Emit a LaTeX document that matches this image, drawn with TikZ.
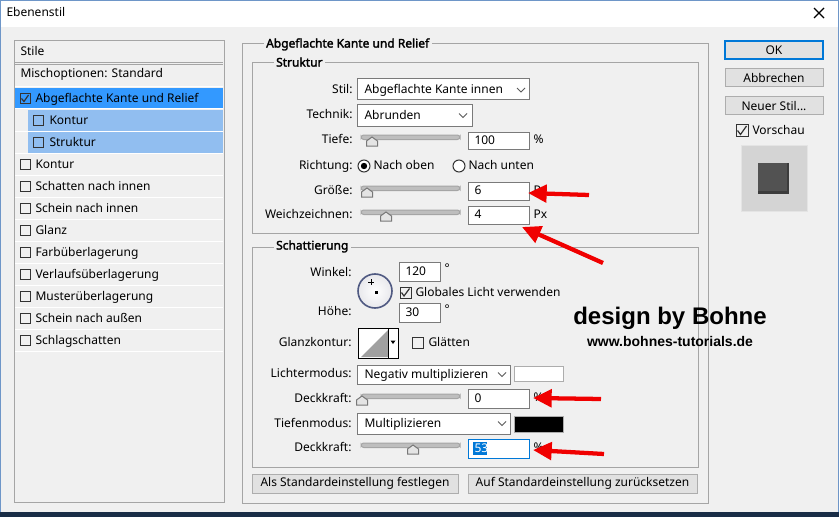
\documentclass[tikz,border=0pt]{standalone}
\usepackage{fontspec}
\setmainfont{Noto Sans}
\newfontfamily\headfont{Noto Sans}[FakeBold=2.2]
\newfontfamily\markfont{Liberation Sans}
\usetikzlibrary{arrows.meta}
\tikzset{every picture/.style={line width=0.75pt}}

\definecolor{dlgbg}{RGB}{240,240,240}
\definecolor{winedge}{RGB}{110,150,200}
\definecolor{desk}{RGB}{25,45,70}
\definecolor{framegray}{RGB}{165,165,165}
\definecolor{selblue}{RGB}{51,153,255}
\definecolor{subblue}{RGB}{145,190,240}
\definecolor{fieldgray}{RGB}{122,122,122}
\definecolor{btnfill}{RGB}{225,225,225}
\definecolor{btnedge}{RGB}{173,173,173}
\definecolor{focusblue}{RGB}{0,120,215}
\definecolor{arrowred}{RGB}{240,0,0}
\definecolor{trackgray}{RGB}{190,190,190}
\definecolor{trackedge}{RGB}{165,165,165}
\definecolor{knobedge}{RGB}{120,120,120}
\definecolor{knobfill}{RGB}{228,228,228}
\definecolor{boxdark}{RGB}{51,51,51}
\definecolor{chevgray}{RGB}{90,90,90}
\definecolor{dialedge}{RGB}{80,90,130}
\definecolor{dialfill}{RGB}{232,232,236}
\definecolor{contourgray}{RGB}{160,160,160}
\definecolor{previewedge}{RGB}{228,228,228}
\definecolor{previewfill}{RGB}{212,212,212}
\definecolor{tiledark}{RGB}{60,60,60}
\definecolor{tilefill}{RGB}{82,82,82}

\tikzset{
  ui/.style={inner sep=0pt, font=\fontsize{9}{11}\selectfont},
  lbl/.style={ui, anchor=mid east},
  txt/.style={ui, anchor=mid west},
  head/.style={ui, anchor=mid west, font=\headfont\fontsize{9}{11}\selectfont, fill=dlgbg, inner xsep=2pt},
  frame/.style={draw=framegray},
  field/.style={draw=fieldgray, fill=white},
  btn/.style={draw=btnedge, fill=btnfill},
  chkbox/.style={draw=boxdark},
  chkmark/.style={draw=boxdark, line width=0.9pt},
  chevron/.style={draw=chevgray, line width=0.7pt},
  redarrow/.style={draw=arrowred, line width=3.2pt, -{Triangle[length=14pt,width=13pt]}}
}

\begin{document}
\begin{tikzpicture}[x=0.75pt,y=0.75pt,yscale=-1,xscale=1]
\useasboundingbox (0,0) rectangle (839,517);

%Shape: Window
\fill[dlgbg] (0,0) rectangle (839,517);
\fill[white] (0,0) rectangle (839,27);
\fill[desk] (0,512) rectangle (839,517);
\draw[winedge] (0.5,512) -- (0.5,0.5) -- (838.5,0.5) -- (838.5,512);
% Text Node
\node[txt] (titel) at (6,13) {Ebenenstil};
%Straight Lines: close cross
\draw[line width=0.9pt] (814,8) -- (824,18) (824,8) -- (814,18);

%Shape: Stile list
\draw[frame] (14,41) rectangle (224,502);
\draw[frame] (15,63) -- (223,63) (15,65) -- (223,65);
\fill[selblue] (15,88) rectangle (223,109);
\fill[subblue] (28,110) rectangle (223,131);
\fill[subblue] (28,132) rectangle (223,153);
\foreach \k in {0,...,12}
  \draw[white] (15,{87+22*\k}) -- (223,{87+22*\k});
% Text Node
\node[txt] (stilkopf) at (20,52) {Stile};
\node[txt] (misch) at (20,74) {Mischoptionen: Standard};
\draw[chkbox] (20,93.5) rectangle (30,103.5);
\draw[chkmark] (21.5,98.5) -- (24,101.5) -- (28.5,95);
\node[txt] (kante) at (35,98.5) {Abgeflachte Kante und Relief};
\draw[chkbox] (33,115.5) rectangle (43,125.5);
\node[txt] (subkontur) at (49,120.5) {Kontur};
\draw[chkbox] (33,137.5) rectangle (43,147.5);
\node[txt] (substruktur) at (49,142.5) {Struktur};
\foreach \name [count=\k from 0] in {Kontur,Schatten nach innen,Schein nach innen,Glanz,Farbüberlagerung,Verlaufsüberlagerung,Musterüberlagerung,Schein nach außen,Schlagschatten}{
  \draw[chkbox] (20,{159.5+22*\k}) rectangle (30,{169.5+22*\k});
  \node[txt] (stil\k) at (35,{164.5+22*\k}) {\name};
}

%Shape: group frames
\draw[frame] (242,44) rectangle (708,503);
\node[head] (kopfkante) at (263,44) {Abgeflachte Kante und Relief};
\draw[frame] (252,63) rectangle (698,233);
\node[head] (kopfstruktur) at (273,63) {Struktur};
\draw[frame] (252,247) rectangle (698,467);
\node[head] (kopfschatt) at (273,246) {Schattierung};

%Struktur
\node[lbl] (stil) at (353,90) {Stil:};
\draw[field] (357,79) rectangle (529,100);
\node[txt] (stilwert) at (364,90) {Abgeflachte Kante innen};
\draw[chevron] (517,88) -- (521,92) -- (525,88);
\node[lbl] (technik) at (353,115) {Technik:};
\draw[field] (357,105) rectangle (472,126);
\node[txt] (technikwert) at (364,115.5) {Abrunden};
\draw[chevron] (459,113.5) -- (463,117.5) -- (467,113.5);
\node[lbl] (tiefe) at (353,140) {Tiefe:};
\draw[field] (468,132) rectangle (529,149);
\node[txt] (tiefewert) at (474,140.5) {100};
\node[txt] (tiefeeinh) at (533,140) {\%};
\node[lbl] (richtung) at (353,166) {Richtung:};
\draw[chkbox, fill=white] (364,166) circle [radius=6];
\fill[black] (364,166) circle [radius=3.2];
\node[txt] (oben) at (373,166) {Nach oben};
\draw[chkbox, fill=white] (459,166) circle [radius=6];
\node[txt] (unten) at (468,166) {Nach unten};
\node[lbl] (groesse) at (353,191) {Größe:};
\draw[field] (468,182) rectangle (529,200);
\node[txt] (groessewert) at (474,191) {6};
\node[txt] (groesseeinh) at (533,191) {Px};
\node[lbl] (weich) at (353,215) {Weichzeichnen:};
\draw[field] (468,206) rectangle (529,224);
\node[txt] (weichwert) at (474,215) {4};
\node[txt] (weicheinh) at (533,215) {Px};

%Schattierung
\node[lbl] (winkel) at (352,273) {Winkel:};
\draw[draw=dialedge, line width=1.2pt, inner color=white, outer color=dialfill] (375,291) circle [radius=17];
\draw[line width=0.5pt] (368,282) -- (374,282) (371,279) -- (371,285);
\fill[black] (375,291) rectangle (378,294);
\draw[field] (399,262) rectangle (440,281);
\node[txt] (winkelwert) at (405,271.5) {120};
\node[txt] (winkelgrad) at (444,269) {°};
\draw[chkbox] (400,287) rectangle (411,298);
\draw[chkmark] (401.5,292.5) -- (404,296) -- (409.5,288.5);
\node[txt] (global) at (415,292.5) {Globales Licht verwenden};
\node[lbl] (hoehe) at (352,312) {Höhe:};
\draw[field] (399,303) rectangle (440,322);
\node[txt] (hoehewert) at (405,312.5) {30};
\node[txt] (hoehegrad) at (444,310) {°};
\node[lbl] (glanz) at (352,343) {Glanzkontur:};
\draw[fill=white] (358,328) rectangle (398,358);
\fill[contourgray] (361,357) -- (388,330) -- (388,357) -- cycle;
\draw (388,328) -- (388,358);
\fill[black] (390.5,340.5) -- (395.5,340.5) -- (393,344) -- cycle;
\draw[chkbox] (412,337) rectangle (423,348);
\node[txt] (glaetten) at (428,343) {Glätten};
\node[lbl] (licht) at (352,374) {Lichtermodus:};
\draw[field] (357,365) rectangle (510,384);
\node[txt] (lichtwert) at (364,374.5) {Negativ multiplizieren};
\draw[chevron] (498,372.5) -- (502,376.5) -- (506,372.5);
\draw[draw=btnedge, fill=white] (514,366) rectangle (563,381);
\node[lbl] (deck1) at (352,399) {Deckkraft:};
\draw[field] (468,389) rectangle (529,408);
\node[txt] (deck1wert) at (474,398.5) {0};
\node[txt] (deck1einh) at (533,398) {\%};
\node[lbl] (tiefenmodus) at (352,424) {Tiefenmodus:};
\draw[field] (357,413) rectangle (510,434);
\node[txt] (tiefenwert) at (364,423.5) {Multiplizieren};
\draw[chevron] (498,421.5) -- (502,425.5) -- (506,421.5);
\draw[draw=btnedge, fill=black] (514,416) rectangle (563,432);
\node[lbl] (deck2) at (352,448) {Deckkraft:};
\draw[draw=focusblue, fill=white] (468,439) rectangle (529,458);
\fill[focusblue] (473,442) rectangle (487,455);
\node[txt, text=white] (deck2wert) at (474,448.5) {53};
\node[txt] (deck2einh) at (533,448) {\%};

%Sliders
\foreach \y/\t in {140/372,191/367,215/386,399/362,448/413}{
  \draw[draw=trackedge, fill=trackgray, rounded corners=2] (361,\y-5) rectangle (460,\y-0.5);
  \draw[draw=knobedge, fill=knobfill] (\t,\y-3) -- (\t+5.5,\y+1) -- (\t+5.5,\y+6) -- (\t-5.5,\y+6) -- (\t-5.5,\y+1) -- cycle;
}

%Buttons bottom
\draw[btn] (252,474) rectangle (458,493);
\node[ui] (festlegen) at (355,483.5) {Als Standardeinstellung festlegen};
\draw[btn] (468,474) rectangle (697,493);
\node[ui] (zurueck) at (582.5,483.5) {Auf Standardeinstellung zurücksetzen};

%Buttons right
\draw[btn, draw=focusblue, line width=1.5pt] (725,41) rectangle (823,59);
\node[ui] (ok) at (774,50) {OK};
\draw[btn] (725,69) rectangle (823,87);
\node[ui] (abbrechen) at (774,78) {Abbrechen};
\draw[btn] (725,97) rectangle (823,115);
\node[ui] (neu) at (774,106) {Neuer Stil...};
\draw[chkbox] (736,124.5) rectangle (748,136.5);
\draw[chkmark] (737.5,130.5) -- (740.5,134.5) -- (746.5,126);
\node[txt] (vorschau) at (752,130.5) {Vorschau};
\draw[draw=previewedge, fill=previewfill] (741,145) rectangle (807,211);
\fill[tiledark] (758,163) rectangle (789,194);
\fill[tilefill] (758,163) rectangle (787,191);

%Watermark
\node[inner sep=0pt, font=\markfont\bfseries\fontsize{18}{20}\selectfont] (design) at (670,318) {design by Bohne};
\node[inner sep=0pt, font=\markfont\bfseries\fontsize{10.5}{12}\selectfont] (url) at (670,341) {www.bohnes-tutorials.de};

%Red arrows
\coordinate (pfeilA) at (589,195);
\coordinate (zielA) at (528,193);
\coordinate (pfeilB) at (603,263);
\coordinate (zielB) at (522,227);
\coordinate (pfeilC) at (601,399);
\coordinate (zielC) at (533,398);
\coordinate (pfeilD) at (604,454);
\coordinate (zielD) at (533,450);
\draw[redarrow] (pfeilA) -- (zielA);
\draw[redarrow] (pfeilB) -- (zielB);
\draw[redarrow] (pfeilC) -- (zielC);
\draw[redarrow] (pfeilD) -- (zielD);

\end{tikzpicture}
\end{document}
